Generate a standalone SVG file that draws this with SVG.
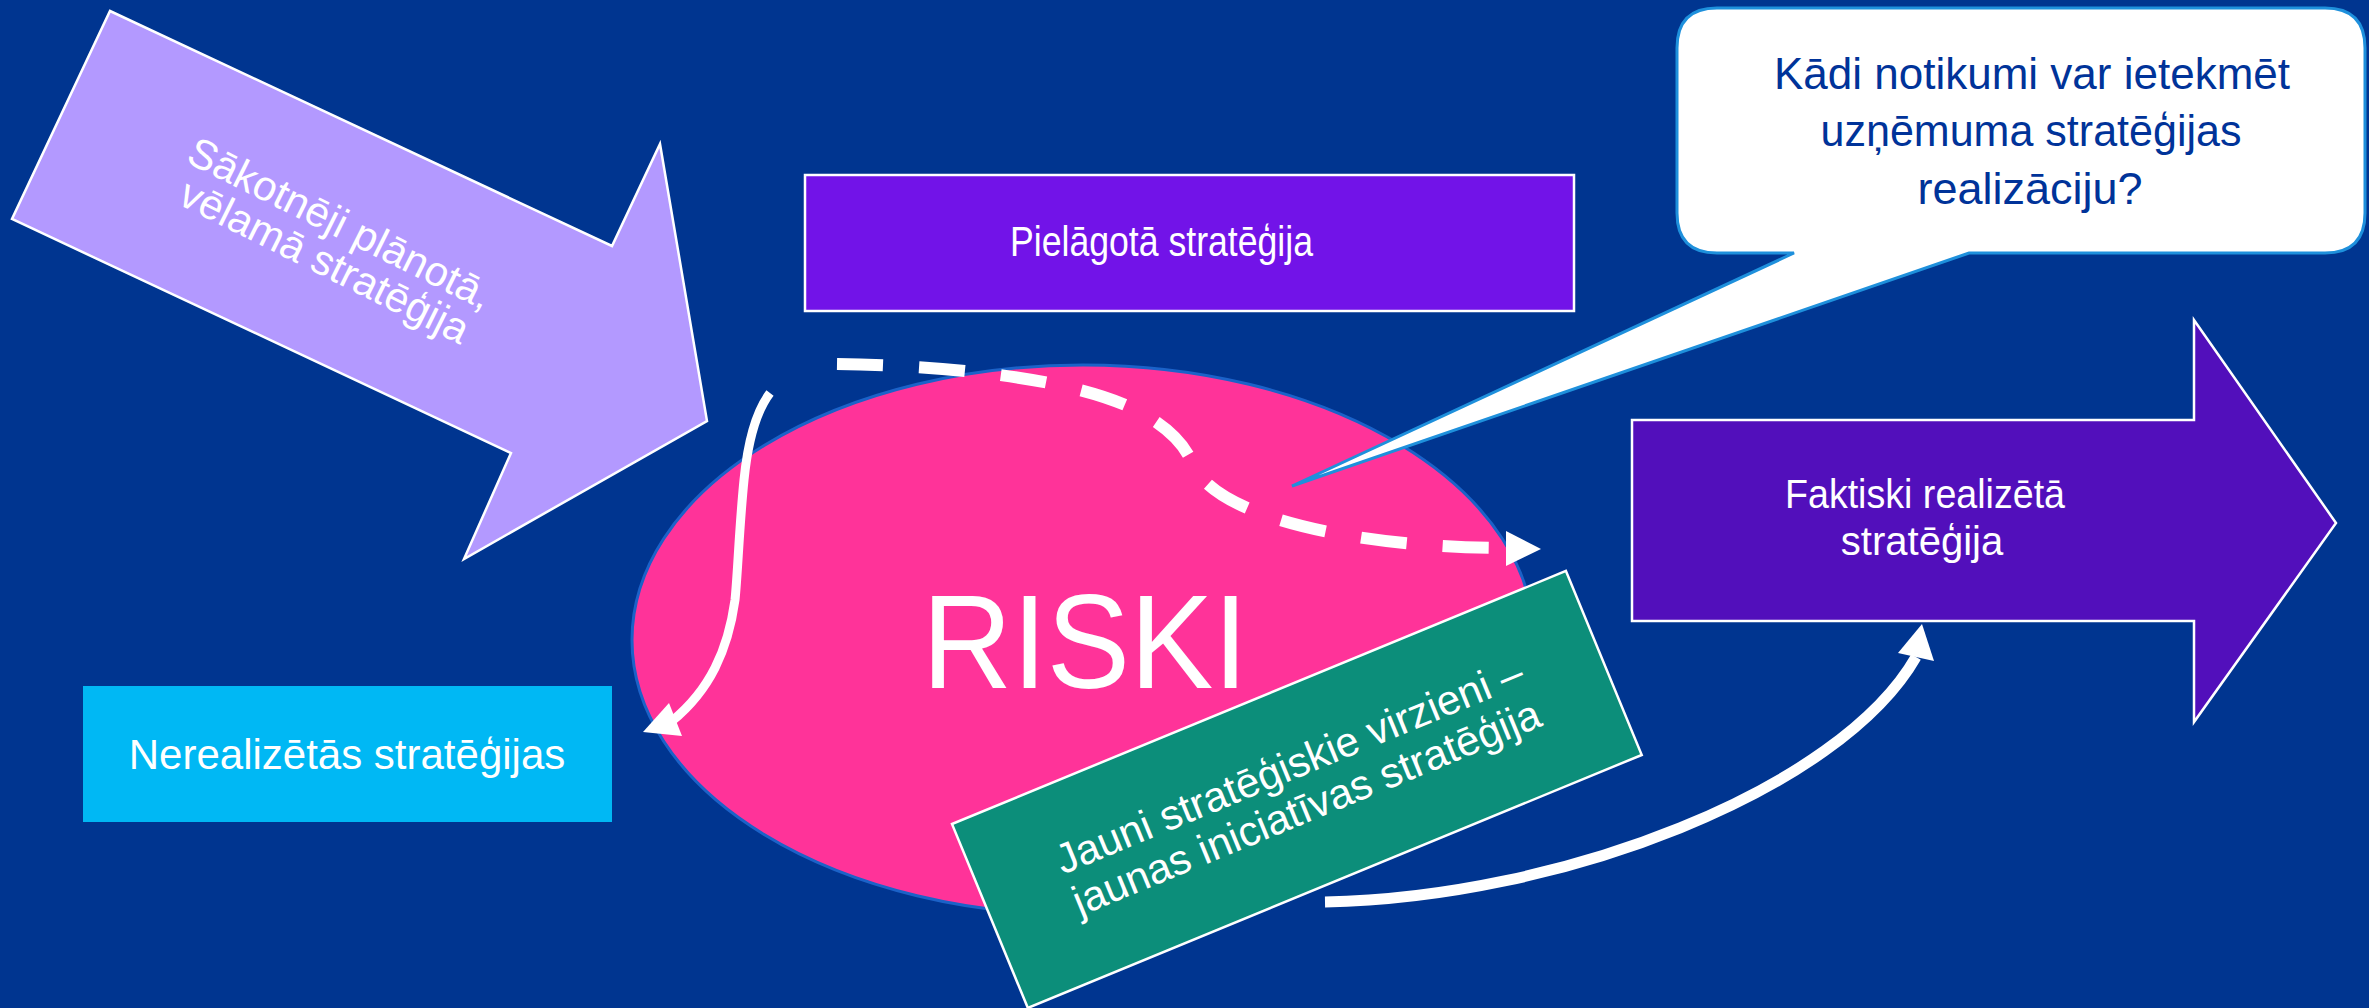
<svg xmlns="http://www.w3.org/2000/svg" width="2369" height="1008" viewBox="0 0 2369 1008">
<style>
.t{font-family:"Liberation Sans",Arial,sans-serif;fill:#ffffff}
.q{font-family:"Liberation Sans",Arial,sans-serif;fill:#003399}
.w{stroke:#ffffff;stroke-width:2.5}
.c{fill:none;stroke:#ffffff}
.h{fill:#ffffff}
</style>
<rect x="0" y="0" width="2369" height="1008" fill="#003590"/>
<g id="planned">
<polygon class="w" fill="#B399FF" points="110,11 612,246 660,144 707,421 464,559 511,453 12,219"/>
<g transform="translate(334,236) rotate(26.5)">
<text class="t" font-size="42" text-anchor="middle" x="0" y="0">Sākotnēji plānotā,</text>
<text class="t" font-size="42" text-anchor="middle" x="3" y="41">vēlamā stratēģija</text>
</g>
</g>
<g id="adapted">
<rect class="w" x="805" y="175" width="769" height="136" fill="#7213E8"/>
<text class="t" font-size="42" x="1010" y="256" textLength="303" lengthAdjust="spacingAndGlyphs">Pielāgotā stratēģija</text>
</g>
<g id="risks">
<ellipse cx="1083" cy="640" rx="451" ry="275" fill="#FF3399" stroke="#1B62C8" stroke-width="3"/>
<text class="t" font-size="134" x="922" y="688" textLength="326" lengthAdjust="spacingAndGlyphs">RISKI</text>
</g>
<g id="question">
<path d="M1717,8 H2325 Q2365,8 2365,48 V213 Q2365,253 2325,253 H1969 L1292,486 L1794,253 H1717 Q1677,253 1677,213 V48 Q1677,8 1717,8 Z" fill="#ffffff" stroke="#1E90DC" stroke-width="3"/>
<text class="q" font-size="45" text-anchor="middle" x="2032" y="89" textLength="516" lengthAdjust="spacingAndGlyphs">Kādi notikumi var ietekmēt</text>
<text class="q" font-size="45" text-anchor="middle" x="2031" y="146" textLength="421" lengthAdjust="spacingAndGlyphs">uzņēmuma stratēģijas</text>
<text class="q" font-size="45" text-anchor="middle" x="2030" y="204">realizāciju?</text>
</g>
<g id="realized">
<polygon class="w" fill="#520FBB" points="1632,420 2194,420 2194,320 2336,523 2194,722 2194,621 1632,621"/>
<text class="t" font-size="41" x="1785" y="508" textLength="280" lengthAdjust="spacingAndGlyphs">Faktiski realizētā</text>
<text class="t" font-size="40" text-anchor="middle" x="1922" y="555">stratēģija</text>
</g>
<g id="emergent">
<g transform="translate(952,824) rotate(-22.4)">
<rect class="w" x="0" y="0" width="664" height="199" fill="#0C8E7A"/>
<text class="t" font-size="42" text-anchor="middle" x="334" y="89">Jauni stratēģiskie virzieni –</text>
<text class="t" font-size="42" text-anchor="middle" x="334" y="134">jaunas iniciatīvas stratēģija</text>
</g>
</g>
<g id="unrealized">
<rect x="83" y="686" width="529" height="136" fill="#00B8F4"/>
<text class="t" font-size="42" text-anchor="middle" x="347" y="769">Nerealizētās stratēģijas</text>
</g>
<g id="connectors">
<path class="c" d="M837,364 C960,366 1080,380 1140,412 C1190,440 1188,460 1200,476 C1240,525 1380,548 1506,548" stroke-width="12" stroke-dasharray="46 36"/>
<polygon class="h" points="1541,549 1506,531 1506,566"/>
<path class="c" d="M770,393 C757,410 748,440 744,480 C739,530 738,570 735,600 C728,650 710,690 672,721" stroke-width="9"/>
<polygon class="h" points="643,732 669,703 682,736"/>
<path class="c" d="M1325,902 C1560,898 1840,790 1916,657" stroke-width="11"/>
<polygon class="h" points="1922,624 1898,653 1934,661"/>
</g>
</svg>
